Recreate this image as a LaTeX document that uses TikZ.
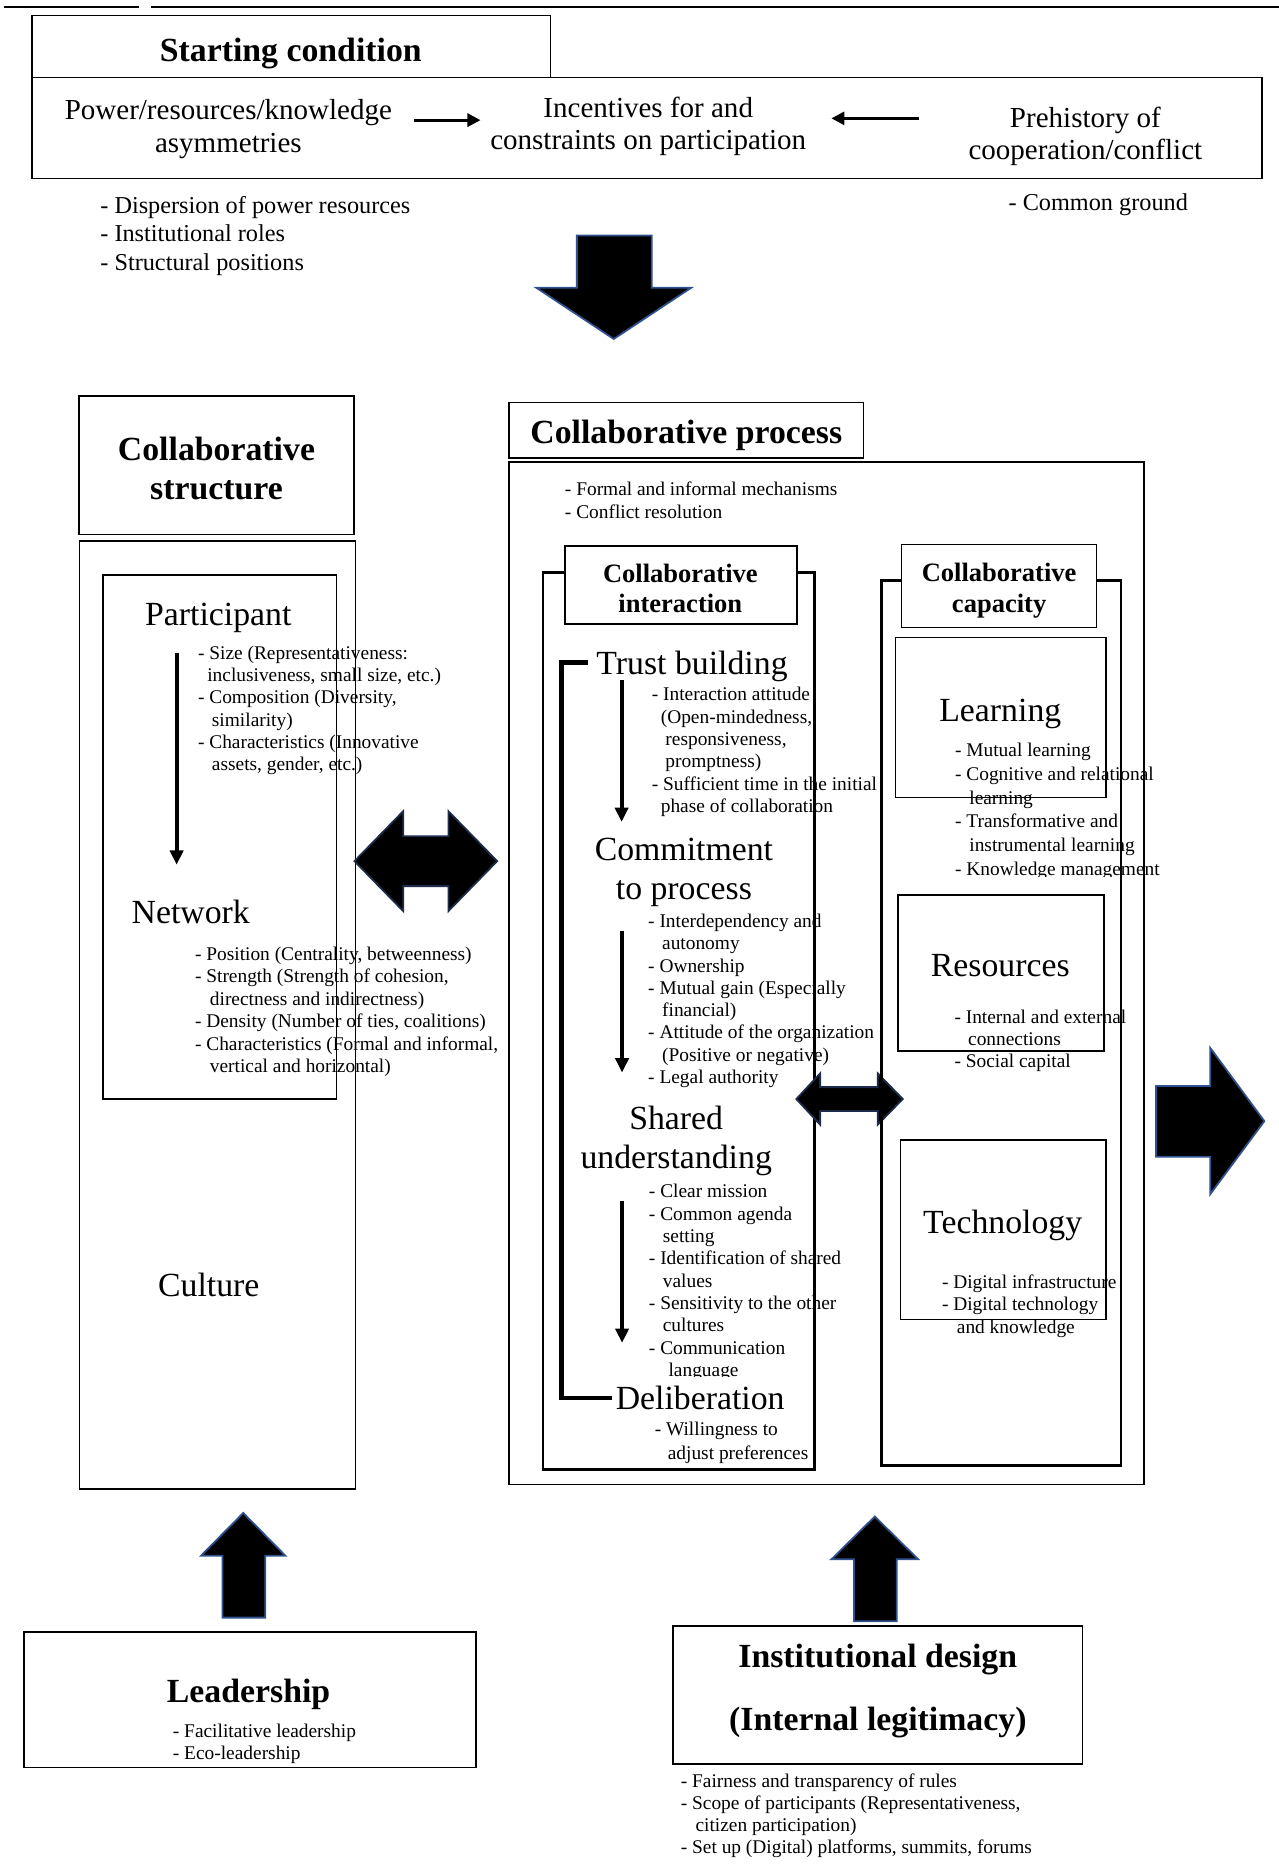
\documentclass[tikz,border=0pt]{standalone}
\usepackage{fontspec}
\setmainfont{Liberation Serif}
\usetikzlibrary{arrows.meta}
\definecolor{arrowedge}{RGB}{47,82,143}
\definecolor{darkedge}{RGB}{30,44,76}
% multi-line text blocks whose baseline is the first line
\newcommand{\ltab}[1]{\begin{tabular}[t]{@{}l@{}}#1\end{tabular}}
\newcommand{\ctab}[1]{\begin{tabular}[t]{@{}c@{}}#1\end{tabular}}
\newcommand{\fsBig}{\fontsize{28.4}{33}\selectfont}
\newcommand{\fsSub}{\fontsize{22.3}{26}\selectfont}
\newcommand{\fsMid}{\fontsize{24.4}{27}\selectfont}
\newcommand{\fsTop}{\fontsize{20.4}{23.7}\selectfont}
\newcommand{\fsSmall}{\fontsize{16.3}{18.7}\selectfont}
\newcommand{\ind}[1]{\hspace*{#1pt}}

\begin{document}
\begin{tikzpicture}[x=1pt,y=-1pt,
  boxline/.style={draw=black, line width=1.3pt},
  frameline/.style={draw=black, line width=2.2pt},
  txt/.style={inner sep=0pt, outer sep=0pt, yshift=-2.2pt},
  bigtext/.style={txt, anchor=base, font=\fsBig},
  headtext/.style={txt, anchor=base, font=\fsBig\bfseries},
  subhead/.style={txt, anchor=base, font=\fsSub\bfseries},
  bullets/.style={txt, anchor=base west, font=\fsSmall},
  flowarrow/.style={line width=3.4pt, -{Triangle[width=11pt,length=12pt]}},
  toparrow/.style={line width=2.4pt, -{Triangle[width=11pt,length=11pt]}},
  blockarrow/.style={fill=black, draw=arrowedge, line width=1.5pt, line join=miter},
  dblarrow/.style={fill=black, draw=darkedge, line width=1.5pt, line join=miter},
  bracketline/.style={line width=3.6pt},
]
\useasboundingbox (0,0) rectangle (1075,1568);

% ---------- rule at the top ----------
\draw[line width=2pt] (3,6) -- (117,6);
\draw[line width=2pt] (127,6) -- (1075,6);

% ---------- starting condition ----------
\draw[boxline] (27,13) rectangle (463,65);
\node[headtext] (start) at (244.5,49.6) {Starting condition};
\draw[boxline] (27,65) rectangle (1061,150);
\node[txt, anchor=base, font=\fsMid] (asym) at (192,98.6) {\ctab{Power/resources/knowledge\\asymmetries}};
\node[txt, anchor=base, font=\fsMid] (incent) at (545,96.6) {\ctab{Incentives for and\\constraints on participation}};
\node[txt, anchor=base, font=\fsMid] (prehist) at (912.5,105) {\ctab{Prehistory of\\cooperation/conflict}};
\coordinate (asymout) at (348,101);
\coordinate (incentinL) at (404,101);
\coordinate (prehistout) at (773,99.5);
\coordinate (incentinR) at (699,99.5);
\draw[toparrow] (asymout) -- (incentinL);
\draw[toparrow] (prehistout) -- (incentinR);
\node[txt, anchor=base west, font=\fsTop] (asymlist) at (84.4,177.5)
  {\ltab{- Dispersion of power resources\\- Institutional roles\\- Structural positions}};
\node[txt, anchor=base west, font=\fsTop] (groundlist) at (848,174.5) {- Common ground};

% down arrow into the collaborative stage
\draw[blockarrow] (485,198) -- (548,198) -- (548,242) -- (581,242) -- (516,285)
  -- (451,242) -- (485,242) -- cycle;

% ---------- collaborative structure ----------
\draw[boxline] (66.5,333) rectangle (297.5,449.5);
\node[headtext, font={\fontsize{28.4}{32.4}\selectfont\bfseries}] (structhead) at (182,385)
  {\ctab{Collaborative\\structure}};
\draw[boxline] (67,455) rectangle (299,1252);
\draw[boxline] (86.5,483.5) rectangle (283,924);
\node[bigtext] (participant) at (183.5,523.7) {Participant};
\coordinate (partarrowA) at (148.5,549);
\coordinate (partarrowB) at (148.5,727);
\draw[flowarrow] (partarrowA) -- (partarrowB);
\node[bullets, font={\fontsize{16.3}{18.8}\selectfont}] (partlist) at (166.5,552)
  {\ltab{- Size (Representativeness:\\\ind{7.8}inclusiveness, small size, etc.)\\- Composition (Diversity,\\\ind{11.7}similarity)\\- Characteristics (Innovative\\\ind{11.7}assets, gender, etc.)}};
\node[txt, anchor=base west, font=\fsBig] (network) at (110.7,774.4) {Network};
\node[bullets, font={\fontsize{16.3}{18.9}\selectfont}] (netlist) at (164,805)
  {\ltab{- Position (Centrality, betweenness)\\- Strength (Strength of cohesion,\\\ind{12.5}directness and indirectness)\\- Density (Number of ties, coalitions)\\- Characteristics (Formal and informal,\\\ind{12.5}vertical and horizontal)}};
\node[bigtext] (culture) at (175.5,1088) {Culture};

% structure <-> process
\draw[dblarrow] (298,724) -- (339,682) -- (339,703) -- (377,703) -- (377,682) -- (418,724)
  -- (377,766) -- (377,745) -- (339,745) -- (339,766) -- cycle;

% ---------- collaborative process ----------
\draw[boxline] (428,338.5) rectangle (726,385);
\node[headtext] (prochead) at (577,371) {Collaborative process};
\draw[boxline] (428,388.5) rectangle (962,1248);
\node[bullets, font={\fontsize{16.3}{19.4}\selectfont}] (proclist) at (475,414.6)
  {\ltab{- Formal and informal mechanisms\\- Conflict resolution}};

% collaborative interaction
\draw[frameline] (456.5,481.5) rectangle (685,1235.6);
\draw[boxline, fill=white] (475,459) rectangle (670,524.6);
\node[subhead, font={\fontsize{22.3}{25}\selectfont\bfseries}] (interhead) at (572,487.6)
  {\ctab{Collaborative\\interaction}};

\node[txt, anchor=base west, font=\fsBig] (trust) at (501.5,565) {Trust building};
\coordinate (trustarrowA) at (522.6,572);
\coordinate (trustarrowB) at (522.6,691);
\draw[flowarrow] (trustarrowA) -- (trustarrowB);
\node[bullets, font={\fontsize{16.3}{18.8}\selectfont}] (trustlist) at (548,587)
  {\ltab{- Interaction attitude\\\ind{7.6}(Open-mindedness,\\\ind{11.5}responsiveness,\\\ind{11.5}promptness)\\- Sufficient time in the initial\\\ind{7.6}phase of collaboration}};

\node[bigtext] (commit) at (575,721) {\ctab{Commitment\\to process}};
\coordinate (commitarrowA) at (523,782.6);
\coordinate (commitarrowB) at (523,901.7);
\draw[flowarrow] (commitarrowA) -- (commitarrowB);
\node[bullets] (commitlist) at (545,777.8)
  {\ltab{- Interdependency and\\\ind{11.7}autonomy\\- Ownership\\- Mutual gain (Especially\\\ind{11.7}financial)\\- Attitude of the organization\\\ind{11.7}(Positive or negative)\\- Legal authority}};

\node[bigtext, font={\fontsize{28.4}{33.4}\selectfont}] (shared) at (568.5,947) {\ctab{Shared\\understanding}};
\coordinate (sharedarrowA) at (523,1010);
\coordinate (sharedarrowB) at (523,1129);
\draw[flowarrow] (sharedarrowA) -- (sharedarrowB);
\begin{scope}
  \clip (530,980) rectangle (780,1157);
  \node[bullets, font={\fontsize{16.3}{18.75}\selectfont}] (sharedlist) at (545.6,1005)
    {\ltab{- Clear mission\\- Common agenda\\\ind{11.7}setting\\- Identification of shared\\\ind{11.7}values\\- Sensitivity to the other\\\ind{11.7}cultures\\- Communication\\\ind{16.5}language}};
\end{scope}

\node[txt, anchor=base west, font=\fsBig] (delib) at (517.7,1183) {Deliberation};
\node[bullets, font={\fontsize{16.3}{19.9}\selectfont}] (delilist) at (550.5,1204.7)
  {\ltab{- Willingness to\\\ind{11}adjust preferences}};

% bracket that loops from trust building back to deliberation
\draw[bracketline] ([shift={(-7.5,-3.4)}]trust.west) -- ++(-22,0) |- ([xshift=-3.5pt]delib.west);

% interaction <-> capacity
\draw[dblarrow] (669.5,924) -- (689.5,902.5) -- (689.5,914) -- (738,914) -- (738,902.5) -- (759,924)
  -- (738,945.5) -- (738,934) -- (689.5,934) -- (689.5,945.5) -- cycle;

% collaborative capacity
\draw[frameline] (741,488.2) rectangle (942.6,1232);
\draw[boxline, fill=white] (758,457.6) rectangle (922,527.4);
\node[subhead, font={\fontsize{22.3}{26.3}\selectfont\bfseries}] (caphead) at (840,486.6)
  {\ctab{Collaborative\\capacity}};

\draw[boxline] (753,536) rectangle (930,670.6);
\node[bigtext] (learning) at (841,604) {Learning};
\begin{scope}
  \clip (790,610) rectangle (1000,737);
  \node[bullets, font={\fontsize{16.3}{20.1}\selectfont}] (learnlist) at (803,633.6)
    {\ltab{- Mutual learning\\- Cognitive and relational\\\ind{12}learning\\- Transformative and\\\ind{12}instrumental learning\\- Knowledge management}};
\end{scope}

\draw[boxline] (755,752.5) rectangle (928,883.7);
\node[bigtext] (resources) at (841,818.5) {Resources};
\node[bullets, font={\fontsize{16.3}{18.5}\selectfont}] (reslist) at (802.5,858.6)
  {\ltab{- Internal and external\\\ind{11.5}connections\\- Social capital}};

\draw[boxline] (757,958.6) rectangle (930,1109.4);
\node[bigtext] (technology) at (843,1035) {Technology};
\node[bullets] (techlist) at (792,1081.3)
  {\ltab{- Digital infrastructure\\- Digital technology\\\ind{12.5}and knowledge}};

% outcome arrow
\draw[blockarrow] (972,913) -- (1017.5,913) -- (1017.5,881) -- (1063,942.6) -- (1017.5,1004)
  -- (1017.5,972.5) -- (972,972.5) -- cycle;

% ---------- leadership ----------
\draw[blockarrow] (187,1360) -- (187,1308) -- (169,1308) -- (204.5,1272) -- (240,1308)
  -- (223,1308) -- (223,1360) -- cycle;
\draw[boxline] (20,1372) rectangle (400,1486);
\node[headtext] (leader) at (209,1429) {Leadership};
\node[bullets] (leadlist) at (145.4,1458.8)
  {\ltab{- Facilitative leadership\\- Eco-leadership}};

% ---------- institutional design ----------
\draw[blockarrow] (718,1363) -- (718,1311) -- (699,1311) -- (735.5,1275) -- (772,1311)
  -- (754,1311) -- (754,1363) -- cycle;
\draw[boxline] (566,1367) rectangle (910,1483);
\node[headtext, font={\fontsize{28.4}{52.5}\selectfont\bfseries}] (instdesign) at (738,1400)
  {\ctab{Institutional design\\(Internal legitimacy)}};
\node[bullets, font={\fontsize{16.3}{18.6}\selectfont}] (instlist) at (572.4,1500.5)
  {\ltab{- Fairness and transparency of rules\\- Scope of participants (Representativeness,\\\ind{12.4}citizen participation)\\- Set up (Digital) platforms, summits, forums}};

\end{tikzpicture}
\end{document}
